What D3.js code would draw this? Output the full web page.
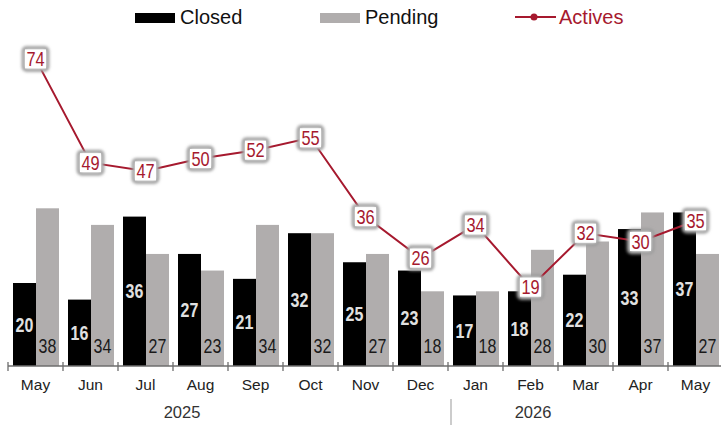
<!DOCTYPE html>
<html>
<head>
<meta charset="utf-8">
<script src="https://cdn.jsdelivr.net/npm/d3@7"></script>
<style>
  body { margin: 0; background: #fff; }
  svg { display: block; font-family: "Liberation Sans", Arial, sans-serif; }
</style>
</head>
<body>
<div id="chart"></div>
<script>
const months = ["May", "Jun", "Jul", "Aug", "Sep", "Oct", "Nov", "Dec", "Jan", "Feb", "Mar", "Apr", "May"];
const closed = [20, 16, 36, 27, 21, 32, 25, 23, 17, 18, 22, 33, 37];
const pending = [38, 34, 27, 23, 34, 32, 27, 18, 18, 28, 30, 37, 27];
const actives = [74, 49, 47, 50, 52, 55, 36, 26, 34, 19, 32, 30, 35];
const years = [{ label: "2025", pos: 182 }, { label: "2026", pos: 533 }];

const width = 721, height = 426;
const red = "#a6192e", grey = "#b0adad";
const narrow = 0.82; // squeeze numbers like a narrow face

const svg = d3.select("#chart").append("svg")
    .attr("width", width)
    .attr("height", height);

// soft glow round the actives labels
const filt = svg.append("defs").append("filter").attr("id", "glow")
    .attr("x", "-40%").attr("y", "-40%").attr("width", "180%").attr("height", "180%");
filt.append("feGaussianBlur").attr("stdDeviation", 1.5);

const x = d3.scaleBand()
    .domain(d3.range(months.length))
    .range([8, 723]);

const y = d3.scaleLinear()
    .domain([0, 80])
    .range([366, 34]);

const inner = d3.scaleBand()
    .domain(["closed", "pending"])
    .range([5, x.bandwidth() - 4]);

const g = svg.append("g");

// bars
g.selectAll(".closed")
  .data(closed)
  .enter().append("rect")
    .attr("class", "closed")
    .attr("x", (d, i) => x(i) + inner("closed"))
    .attr("width", inner.bandwidth())
    .attr("y", d => y(d))
    .attr("height", d => y(0) - y(d))
    .attr("fill", "#000");

g.selectAll(".pending")
  .data(pending)
  .enter().append("rect")
    .attr("class", "pending")
    .attr("x", (d, i) => x(i) + inner("pending"))
    .attr("width", inner.bandwidth())
    .attr("y", d => y(d))
    .attr("height", d => y(0) - y(d))
    .attr("fill", grey);

// bar labels
g.selectAll(".closedLbl")
  .data(closed)
  .enter().append("text")
    .attr("transform", (d, i) => "translate(" + (x(i) + inner("closed") + inner.bandwidth() / 2) + "," + ((y(d) + y(0)) / 2) + ") scale(" + narrow + ",1)")
    .attr("dy", "0.36em")
    .attr("text-anchor", "middle")
    .attr("font-size", 19.5)
    .attr("font-weight", "bold")
    .attr("fill", "#e0e0e0")
    .text(d => d);

g.selectAll(".pendLbl")
  .data(pending)
  .enter().append("text")
    .attr("transform", (d, i) => "translate(" + (x(i) + inner("pending") + inner.bandwidth() / 2) + "," + (y(0) - 20) + ") scale(" + narrow + ",1)")
    .attr("dy", "0.36em")
    .attr("text-anchor", "middle")
    .attr("font-size", 19.5)
    .attr("fill", "#1a1a1a")
    .text(d => d);

// axis
const axis = svg.append("g")
    .attr("transform", "translate(0," + y(0) + ")");
axis.append("line")
    .attr("x1", 8).attr("x2", 721)
    .attr("stroke", "#6e6e6e").attr("stroke-width", 1.3);
axis.selectAll(".tick")
  .data(d3.range(months.length))
  .enter().append("line")
    .attr("x1", i => x(i)).attr("x2", i => x(i))
    .attr("y1", -4).attr("y2", 5)
    .attr("stroke", "#6e6e6e").attr("stroke-width", 1.3);
axis.selectAll(".mlbl")
  .data(months)
  .enter().append("text")
    .attr("x", (d, i) => x(i) + x.bandwidth() / 2)
    .attr("y", 19)
    .attr("dy", "0.35em")
    .attr("text-anchor", "middle")
    .attr("font-size", 15.5)
    .attr("fill", "#222")
    .text(d => d);

svg.selectAll(".year")
  .data(years)
  .enter().append("text")
    .attr("x", d => d.pos)
    .attr("y", 412)
    .attr("dy", "0.35em")
    .attr("text-anchor", "middle")
    .attr("font-size", 16.5)
    .attr("fill", "#333")
    .text(d => d.label);

svg.append("line")
    .attr("x1", x(8) + 3).attr("x2", x(8) + 3)
    .attr("y1", 399).attr("y2", 425)
    .attr("stroke", "#bbb").attr("stroke-width", 1.5);

// actives line
const line = d3.line()
    .x((d, i) => x(i) + x.bandwidth() / 2)
    .y(d => y(d));

g.append("path")
    .datum(actives)
    .attr("d", line)
    .attr("fill", "none")
    .attr("stroke", red)
    .attr("stroke-width", 2);

const lbl = g.selectAll(".act")
  .data(actives)
  .enter().append("g")
    .attr("transform", (d, i) => "translate(" + (x(i) + x.bandwidth() / 2) + "," + y(d) + ")");
lbl.append("rect")
    .attr("x", -12).attr("y", -11)
    .attr("width", 24).attr("height", 22)
    .attr("rx", 3)
    .attr("fill", "#fff")
    .attr("stroke", "#999")
    .attr("stroke-width", 3.5)
    .attr("filter", "url(#glow)");
lbl.append("rect")
    .attr("x", -10.5).attr("y", -9.5)
    .attr("width", 21).attr("height", 19)
    .attr("fill", "#fff");
lbl.append("text")
    .attr("transform", "scale(" + narrow + ",1)")
    .attr("text-anchor", "middle")
    .attr("dy", "0.36em")
    .attr("font-size", 20)
    .attr("fill", red)
    .text(d => d);

// legend
const leg = svg.append("g");
leg.append("rect").attr("x", 135).attr("y", 13).attr("width", 40).attr("height", 10).attr("fill", "#000");
leg.append("text").attr("x", 180).attr("y", 17).attr("dy", "0.35em").attr("font-size", 20).attr("fill", "#111").text("Closed");
leg.append("rect").attr("x", 320).attr("y", 13).attr("width", 40).attr("height", 10).attr("fill", grey);
leg.append("text").attr("x", 365).attr("y", 17).attr("dy", "0.35em").attr("font-size", 20).attr("fill", "#111").text("Pending");
leg.append("line").attr("x1", 515).attr("x2", 556).attr("y1", 17).attr("y2", 17).attr("stroke", red).attr("stroke-width", 2);
leg.append("circle").attr("cx", 534).attr("cy", 17).attr("r", 3.5).attr("fill", red);
leg.append("text").attr("x", 559).attr("y", 17).attr("dy", "0.35em").attr("font-size", 20).attr("fill", red).text("Actives");
</script>
</body>
</html>
